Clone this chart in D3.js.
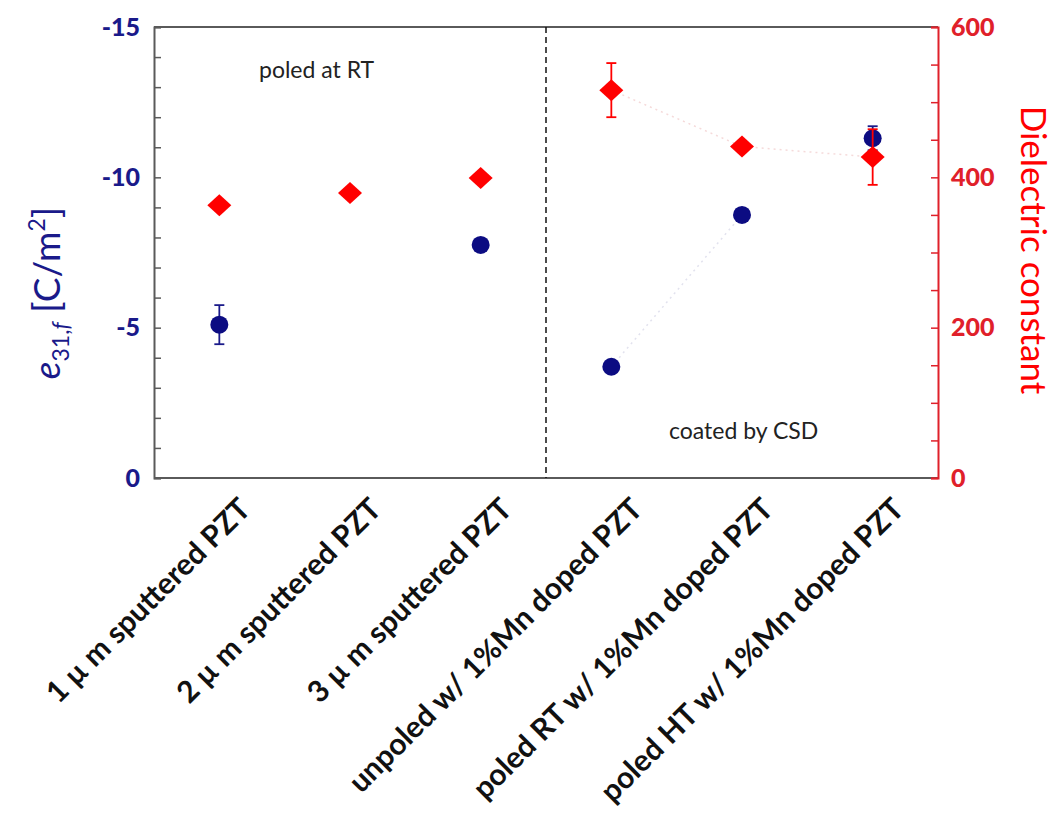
<!DOCTYPE html>
<html><head><meta charset="utf-8">
<script src="https://cdn.jsdelivr.net/npm/d3@7"></script>
<style>
html,body{margin:0;padding:0;background:#fff;}
svg{display:block;font-family:Lato,"Open Sans",sans-serif;}
</style></head>
<body>
<svg id="chart" width="1057" height="821"></svg>
<script>
// ---- data ----
const categories = ["1 \u00b5 m sputtered PZT", "2 \u00b5 m sputtered PZT", "3 \u00b5 m sputtered PZT",
  "unpoled w/ 1%Mn doped PZT", "poled RT w/ 1%Mn doped PZT", "poled HT w/ 1%Mn doped PZT"];
const e31Values = [-5.1, null, -7.75, -3.7, -8.75, -11.3];
const e31Errors = [0.65, 0, 0, 0, 0, 0.4];
const dielectricValues = [363, 379, 399, 516, 441, 427];
const dielectricErrors = [0, 0, 0, 36, 0, 37];
const leftTicks = [0, -5, -10, -15];
const rightTicks = [0, 200, 400, 600];

// ---- layout ----
const L = 154, R = 938, T = 27, B = 478;
const navy = "#1a1a8a", red = "#ff0000", redAxis = "#e0202a";
const svg = d3.select("#chart");

const x = d3.scaleBand().domain(categories).range([L, R]);
const xc = d => x(d) + x.bandwidth() / 2;
const yL = d3.scaleLinear().domain([0, -15]).range([B, T]);
const yR = d3.scaleLinear().domain([0, 600]).range([B, T]);

// frame top/bottom
svg.append("line").attr("x1", L).attr("x2", R).attr("y1", T).attr("y2", T).attr("stroke", "#5a5a5a").attr("stroke-width", 2);
svg.append("line").attr("x1", L).attr("x2", R).attr("y1", B).attr("y2", B).attr("stroke", "#5a5a5a").attr("stroke-width", 2);

// left axis
const gL = svg.append("g").attr("transform", `translate(${L},0)`)
  .call(d3.axisLeft(yL).tickValues(d3.range(0, -16, -1)).tickSize(-7).tickFormat(""));
gL.select(".domain").attr("stroke", "#5a5a5a").attr("stroke-width", 2);
gL.selectAll(".tick line").attr("stroke", "#5a5a5a").attr("stroke-width", 1.5);
const gL2 = svg.append("g").attr("transform", `translate(${L},0)`)
  .call(d3.axisLeft(yL).tickValues(leftTicks).tickSize(0).tickPadding(14).tickFormat(d => String(d)));
gL2.select(".domain").remove();
gL2.selectAll("text").attr("fill", navy).attr("font-size", 25).attr("font-weight", 900)
  .attr("font-family", "Lato, sans-serif");

// right axis
const gR = svg.append("g").attr("transform", `translate(${R},0)`)
  .call(d3.axisRight(yR).tickValues(d3.range(0, 601, 50)).tickSize(-7).tickFormat(""));
gR.select(".domain").attr("stroke", redAxis).attr("stroke-width", 2);
gR.selectAll(".tick line").attr("stroke", redAxis).attr("stroke-width", 1.5);
const gR2 = svg.append("g").attr("transform", `translate(${R},0)`)
  .call(d3.axisRight(yR).tickValues(rightTicks).tickSize(0).tickPadding(13).tickFormat(d => String(d)));
gR2.select(".domain").remove();
gR2.selectAll("text").attr("fill", redAxis).attr("font-size", 25).attr("font-weight", 900)
  .attr("font-family", "Lato, sans-serif");

// dashed separator
const sepX = x(categories[3]);
svg.append("line").attr("x1", sepX).attr("x2", sepX).attr("y1", T).attr("y2", B)
  .attr("stroke", "#111").attr("stroke-width", 1.5).attr("stroke-dasharray", "6,4");

// faint connecting dotted lines
const lineR = d3.line().x(d => xc(d.c)).y(d => yR(d.v));
const lineL = d3.line().x(d => xc(d.c)).y(d => yL(d.v));
const rSeg = [3, 4, 5].map(i => ({c: categories[i], v: dielectricValues[i]}));
const lSeg = [3, 4].map(i => ({c: categories[i], v: e31Values[i]}));
svg.append("path").attr("d", lineR(rSeg)).attr("fill", "none").attr("stroke", "#f5dada").attr("stroke-width", 1.5).attr("stroke-dasharray", "2,4");
svg.append("path").attr("d", lineL(lSeg)).attr("fill", "none").attr("stroke", "#e2e2ee").attr("stroke-width", 1.5).attr("stroke-dasharray", "2,4");

// blue points + error bars
const bluePts = categories.map((c, i) => ({c, v: e31Values[i], e: e31Errors[i]})).filter(d => d.v !== null);
bluePts.filter(d => d.e > 0).forEach(d => {
  const g = svg.append("g").attr("stroke", navy).attr("stroke-width", 1.8);
  g.append("line").attr("x1", xc(d.c)).attr("x2", xc(d.c)).attr("y1", yL(d.v - d.e)).attr("y2", yL(d.v + d.e));
  [d.v - d.e, d.v + d.e].forEach(v => g.append("line").attr("x1", xc(d.c) - 5).attr("x2", xc(d.c) + 5).attr("y1", yL(v)).attr("y2", yL(v)));
});
svg.selectAll("circle.blue").data(bluePts).enter().append("circle")
  .attr("cx", d => xc(d.c)).attr("cy", d => yL(d.v)).attr("r", 9).attr("fill", "#0c0c82");

// red points + error bars
const redPts = categories.map((c, i) => ({c, v: dielectricValues[i], e: dielectricErrors[i]}));
redPts.filter(d => d.e > 0).forEach(d => {
  const g = svg.append("g").attr("stroke", red).attr("stroke-width", 1.8);
  g.append("line").attr("x1", xc(d.c)).attr("x2", xc(d.c)).attr("y1", yR(d.v - d.e)).attr("y2", yR(d.v + d.e));
  [d.v - d.e, d.v + d.e].forEach(v => g.append("line").attr("x1", xc(d.c) - 5).attr("x2", xc(d.c) + 5).attr("y1", yR(v)).attr("y2", yR(v)));
});
svg.selectAll("path.red").data(redPts).enter().append("path")
  .attr("d", d => `M${xc(d.c)},${yR(d.v) - 11}L${xc(d.c) + 12},${yR(d.v)}L${xc(d.c)},${yR(d.v) + 11}L${xc(d.c) - 12},${yR(d.v)}Z`)
  .attr("fill", red);

// annotations
svg.append("text").attr("x", 259).attr("y", 78).attr("font-size", 23).attr("fill", "#222").text("poled at RT");
svg.append("text").attr("x", 669).attr("y", 439).attr("font-size", 23).attr("fill", "#222").text("coated by CSD");

// category labels
svg.selectAll("text.cat").data(categories).enter().append("text")
  .attr("transform", d => `translate(${xc(d) + 33},${B + 33}) rotate(-45)`)
  .attr("text-anchor", "end").attr("font-size", 30).attr("font-weight", 700).attr("fill", "#111")
  .text(d => d);

// left axis title
const lt = svg.append("text").attr("transform", `translate(60,293) rotate(-90)`)
  .attr("text-anchor", "middle").attr("fill", navy).attr("font-size", 37);
lt.append("tspan").attr("font-style", "italic").text("e");
lt.append("tspan").attr("font-size", 23).attr("dy", 9).text("31,");
lt.append("tspan").attr("font-size", 23).attr("font-style", "italic").text("f");
lt.append("tspan").attr("dy", -9).text(" [C/m");
lt.append("tspan").attr("font-size", 23).attr("dy", -15).text("2");
lt.append("tspan").attr("dy", 15).text("]");

// right axis title
svg.append("text").attr("transform", `translate(1021,250) rotate(90)`)
  .attr("text-anchor", "middle").attr("fill", red).attr("font-size", 35).text("Dielectric constant");
</script>
</body></html>
